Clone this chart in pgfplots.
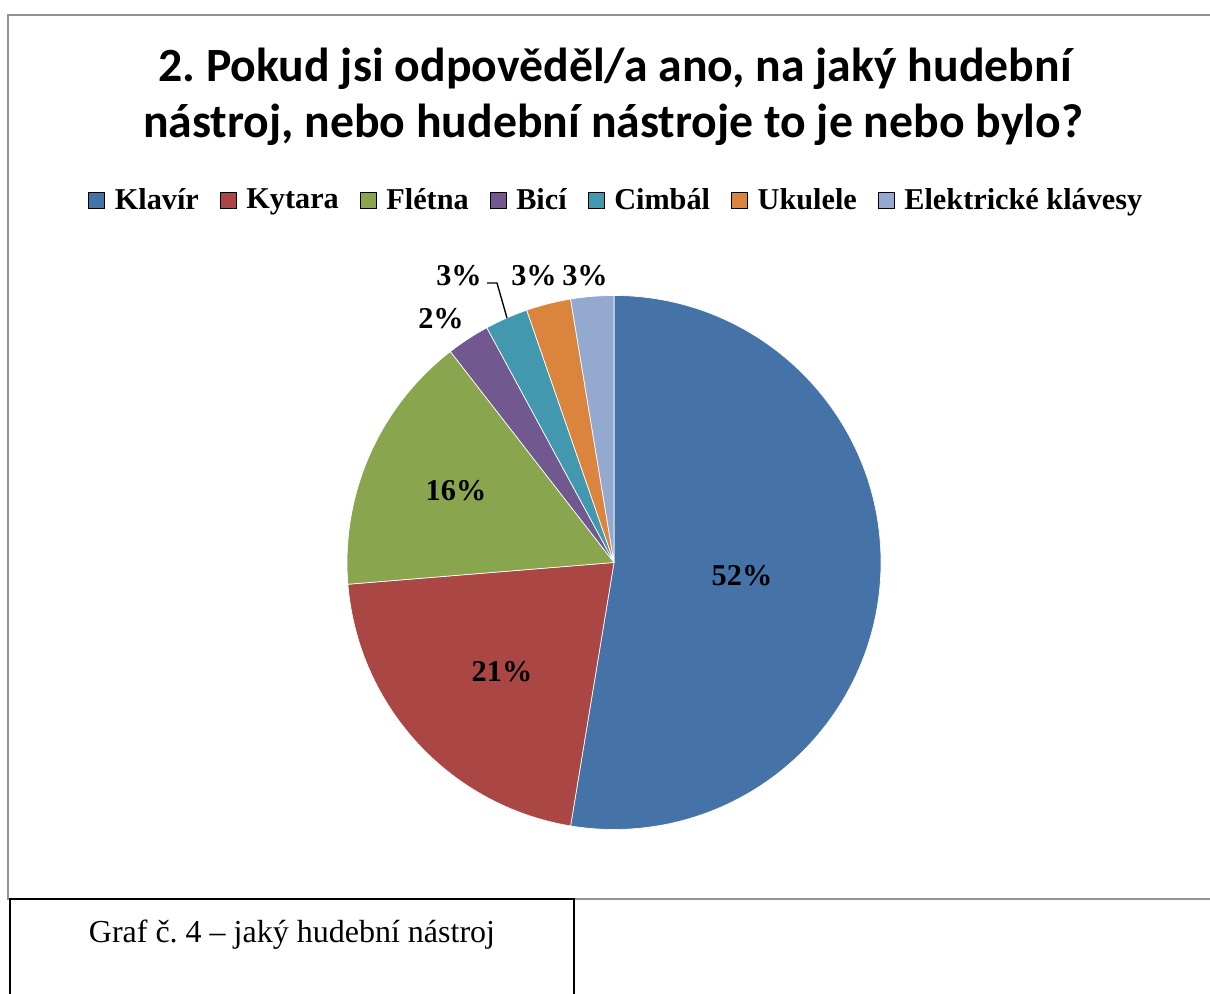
\documentclass[border=0pt]{standalone}
\usepackage{pgfplots}
\pgfplotsset{compat=1.18}
\usepackage{pgfplotstable}
\usepackage{fontspec}
\setmainfont{Liberation Serif}
\newfontfamily\titlefont{Carlito}
\frenchspacing

\definecolor{klavir}{HTML}{4572A7}
\definecolor{kytara}{HTML}{AA4643}
\definecolor{fletna}{HTML}{89A54E}
\definecolor{bici}{HTML}{71588F}
\definecolor{cimbal}{HTML}{4198AF}
\definecolor{ukulele}{HTML}{DB843D}
\definecolor{klavesy}{HTML}{93A9CF}

% podil v procentech, po smeru hodinovych rucicek od 12 hodin
\pgfplotstableread{
nastroj podil barva
Klavir  52.6 klavir
Kytara  21.1 kytara
Fletna  15.8 fletna
Bici     2.6 bici
Cimbal   2.6 cimbal
Ukulele  2.7 ukulele
Klavesy  2.6 klavesy
}\piedata

\begin{document}
\begin{tikzpicture}
\useasboundingbox (0,0) rectangle (907.5pt,745.5pt);
\begin{axis}[
  x=0.75pt, y=0.75pt, xmin=0, xmax=1210, ymin=0, ymax=994,
  hide axis, clip=false,
  legend columns=-1,
  legend style={draw=none, fill=none, inner sep=0pt,
    font=\fontsize{22.7}{27}\selectfont\bfseries,
    at={(88/1210,794/994)}, anchor=west,
    nodes={inner sep=0pt},
    /tikz/every odd column/.append style={column sep=7.5pt},
    /tikz/every even column/.append style={column sep=15.75pt}},
  legend image code/.code={\fill[#1] (0pt,-6pt) rectangle (12pt,6pt);},
]
\addlegendimage{fill=klavir}\addlegendentry{Klavír}
\addlegendimage{fill=kytara}\addlegendentry{Kytara}
\addlegendimage{fill=fletna}\addlegendentry{Flétna}
\addlegendimage{fill=bici}\addlegendentry{Bicí}
\addlegendimage{fill=cimbal}\addlegendentry{Cimbál}
\addlegendimage{fill=ukulele}\addlegendentry{Ukulele}
\addlegendimage{fill=klavesy}\addlegendentry{Elektrické klávesy}

% kolac
\pgfplotsextra{%
  \pgfplotstablegetrowsof{\piedata}%
  \pgfmathtruncatemacro\last{\pgfplotsretval-1}%
  \gdef\cum{0}%
  \foreach \i in {0,...,\last}{%
    \pgfplotstablegetelem{\i}{podil}\of\piedata \let\val\pgfplotsretval
    \pgfplotstablegetelem{\i}{barva}\of\piedata \let\col\pgfplotsretval
    \pgfmathsetmacro\a{90-3.6*\cum}%
    \pgfmathsetmacro\b{90-3.6*(\cum+\val)}%
    \filldraw[fill=\col, draw=white, line width=0.5pt]
      (axis cs:614,431.5) -- ++(\a:200.25pt)
      arc[start angle=\a, end angle=\b, radius=200.25pt] -- cycle;
    \pgfmathsetmacro\nc{\cum+\val}\xdef\cum{\nc}%
  }%
}

% popisky dat
\begin{scope}[every node/.style={font=\fontsize{22.7}{27}\selectfont\bfseries, anchor=base, inner sep=0pt}]
\node at (axis cs:742,408) {52\%};
\node at (axis cs:502,312) {21\%};
\node at (axis cs:456,493) {16\%};
\node at (axis cs:441,665) {2\%};
\node at (axis cs:459,708) {3\%};
\node at (axis cs:534,708) {3\%};
\node at (axis cs:585,708) {3\%};
\end{scope}
\draw[black, line width=1pt] (axis cs:487,711) -- (axis cs:497,711) -- (axis cs:507,676);

% nadpis
\node[anchor=base, font=\titlefont\bfseries\fontsize{35.8}{42}\selectfont, inner sep=0pt]
  at (axis cs:615,912) {2. Pokud jsi odpověděl/a ano, na jaký hudební};
\node[anchor=base, font=\titlefont\bfseries\fontsize{35.8}{42}\selectfont, inner sep=0pt]
  at (axis cs:613,856) {nástroj, nebo hudební nástroje to je nebo bylo?};

% ramecek grafu a tabulka s popiskem
\draw[gray!85, line width=1.5pt] (axis cs:1215,979) -- (axis cs:8,979) -- (axis cs:8,95) -- (axis cs:1215,95);
\draw[black, line width=1.5pt] (axis cs:10,-5) -- (axis cs:10,95) -- (axis cs:574,95) -- (axis cs:574,-5);
\node[anchor=base, font=\fontsize{24}{28}\selectfont, inner sep=0pt]
  at (axis cs:292,51) {Graf č. 4 – jaký hudební nástroj};
\end{axis}
\end{tikzpicture}
\end{document}
